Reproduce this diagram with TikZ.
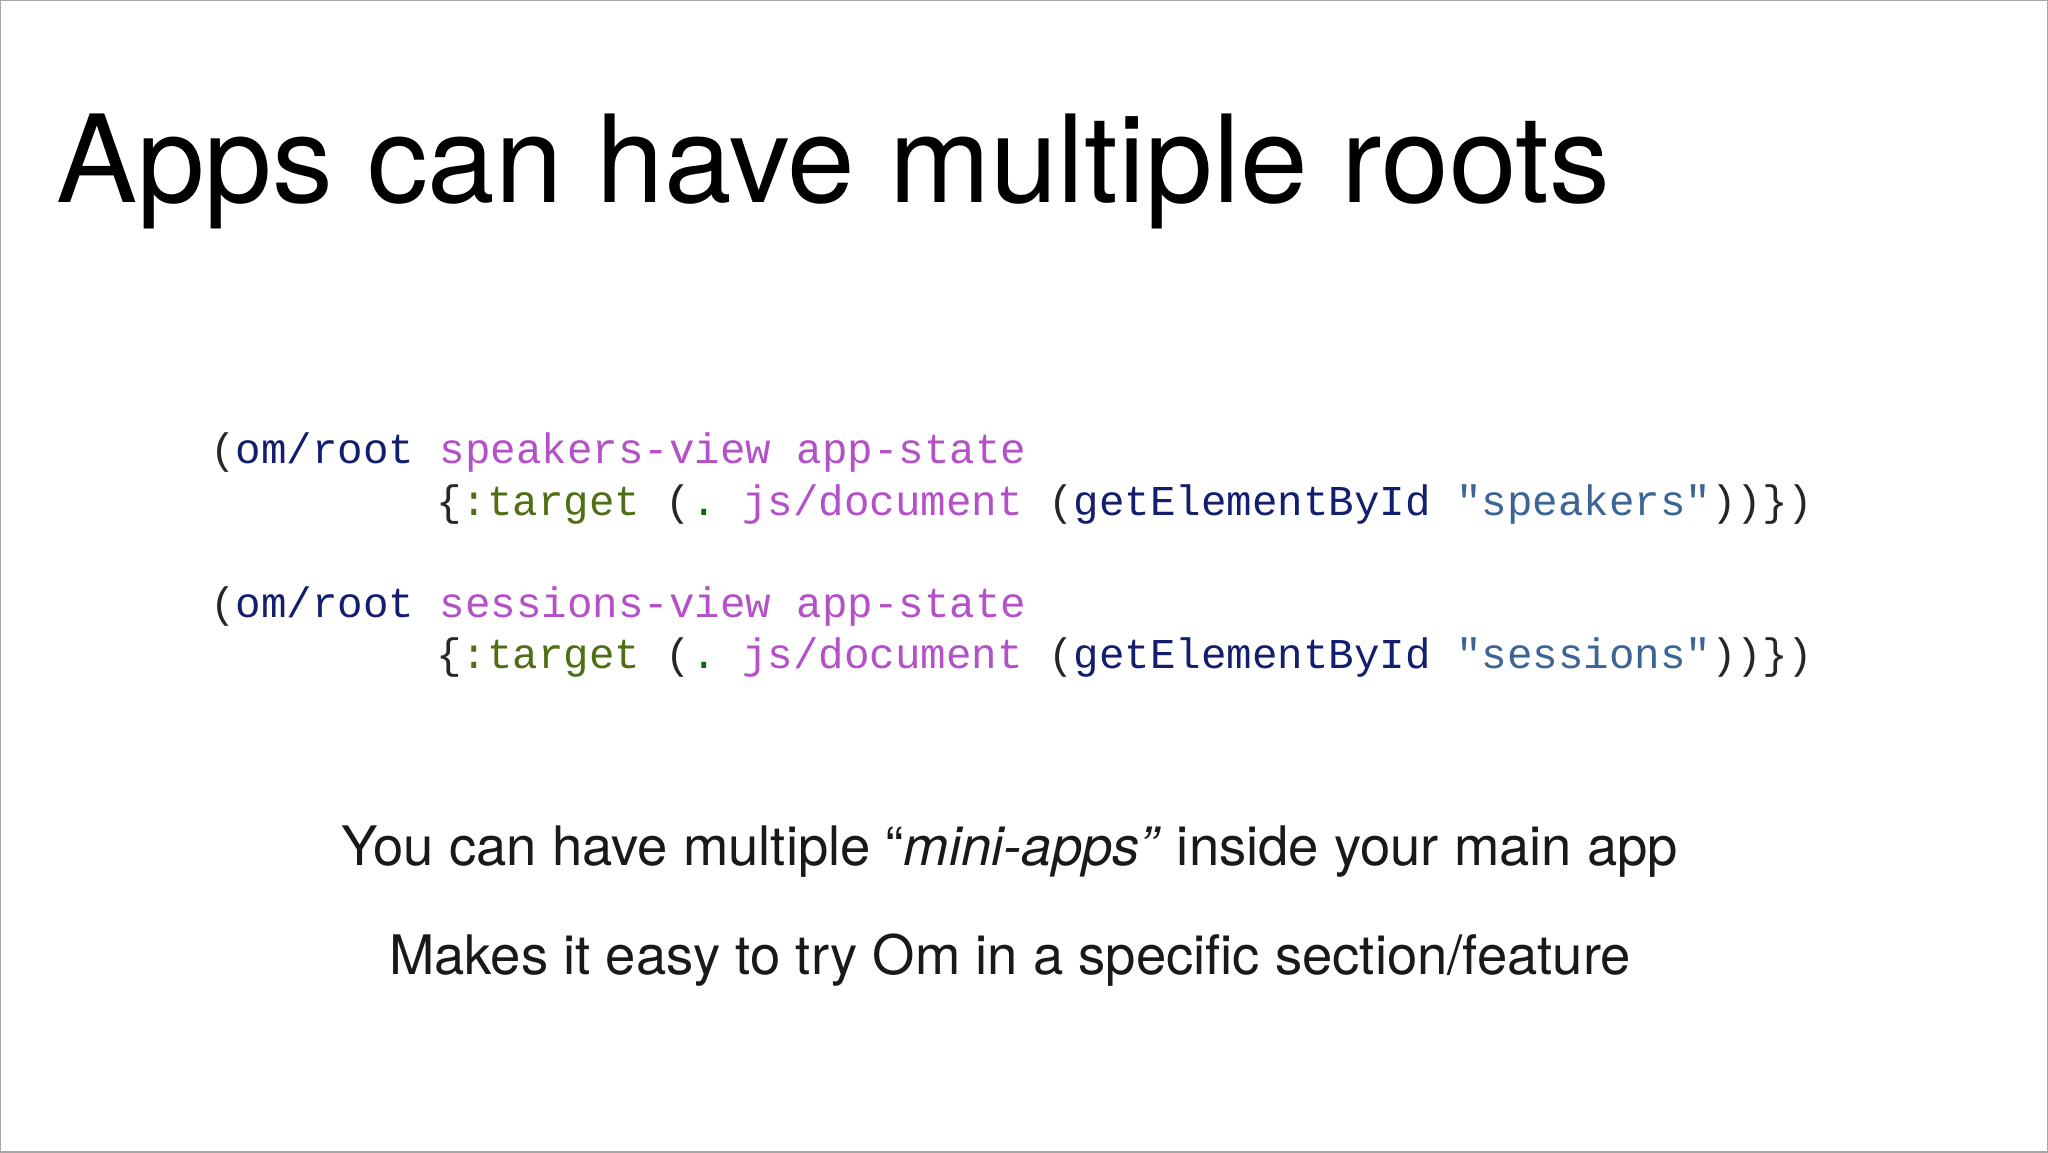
\documentclass[tikz,border=0pt]{standalone}
\usepackage{fontspec}
\setmainfont{TeX Gyre Heros}
\setmonofont{Liberation Mono}
\usepackage{xcolor}
\definecolor{cljnavy}{RGB}{20,30,110}
\definecolor{cljpurple}{RGB}{180,80,200}
\definecolor{cljolive}{RGB}{80,110,20}
\definecolor{cljgreen}{RGB}{20,100,20}
\definecolor{cljstring}{RGB}{60,100,150}
\newcommand{\kw}[1]{\textcolor{cljnavy}{#1}}
\newcommand{\sym}[1]{\textcolor{cljpurple}{#1}}
\newcommand{\key}[1]{\textcolor{cljolive}{#1}}
\newcommand{\str}[1]{\textcolor{cljstring}{#1}}

\begin{document}
\begin{tikzpicture}[x=1cm, y=1cm]
    \tikzset{code/.style={anchor=base west, inner sep=0pt, font=\ttfamily\fontsize{12.1}{14}\selectfont, text=black!85},
             body/.style={anchor=base, inner sep=0pt, font=\fontsize{15.5}{18}\selectfont, text=black!90}}
	\draw[color=gray!70, fill=white] (0,0) rectangle (20.48,-11.52);
	\node (title) at (0.55,-2.02) [anchor=base west, inner sep=0pt, font=\fontsize{34.6}{40}\selectfont] {Apps can have multiple roots};
	% first root
	\node (speakersA) at (2.09,-4.63) [code] {(\kw{om/root} \sym{speakers-view app-state}};
	\node (speakersB) at (4.35,-5.15) [code] {\{\key{:target} (\textcolor{cljgreen}{.} \sym{js/document} (\kw{getElementById} \str{"speakers"}))\})};
	% second root
	\node (sessionsA) at (2.09,-6.17) [code] {(\kw{om/root} \sym{sessions-view app-state}};
	\node (sessionsB) at (4.35,-6.68) [code] {\{\key{:target} (\textcolor{cljgreen}{.} \sym{js/document} (\kw{getElementById} \str{"sessions"}))\})};
	\node (miniapps) at (10.10,-8.65) [body] {You can have multiple “\textit{mini-apps”} inside your main app};
	\node (easy) at (10.10,-9.74) [body] {Makes it easy to try Om in a specific section/feature};
\end{tikzpicture}
\end{document}
